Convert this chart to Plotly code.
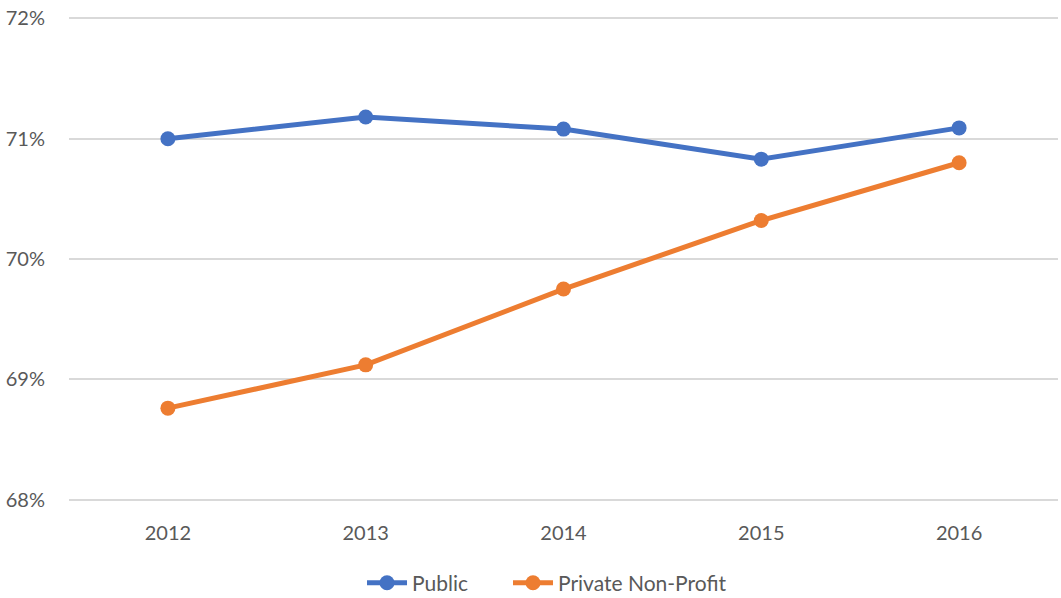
import plotly.graph_objects as go

years = ["2012", "2013", "2014", "2015", "2016"]
public = [71.00, 71.18, 71.08, 70.83, 71.09]
private_np = [68.76, 69.12, 69.75, 70.32, 70.80]
y_ticks = [68, 69, 70, 71, 72]
y_tick_labels = ["68%", "69%", "70%", "71%", "72%"]

fig = go.Figure()
fig.add_trace(go.Scatter(
    x=years, y=public, name="Public", mode="lines+markers",
    line=dict(color="#4472C4", width=5),
    marker=dict(color="#4472C4", size=15),
    legend="legend",
))
fig.add_trace(go.Scatter(
    x=years, y=private_np, name="Private Non-Profit", mode="lines+markers",
    line=dict(color="#ED7D31", width=5),
    marker=dict(color="#ED7D31", size=15),
    legend="legend2",
))

legend_style = dict(orientation="h", xanchor="left", y=0.025, yanchor="middle",
                    yref="container", xref="container",
                    font=dict(size=21, color="#595959"), itemwidth=40,
                    bgcolor="rgba(0,0,0,0)")

fig.update_layout(
    width=1061, height=598,
    margin=dict(l=69, r=3, t=16, b=96, autoexpand=False),
    paper_bgcolor="white", plot_bgcolor="white",
    font=dict(family="Lato, 'Open Sans', sans-serif", size=20, color="#595959"),
    showlegend=True,
    legend=dict(x=0.3412, **legend_style),
    legend2=dict(x=0.4788, **legend_style),
    xaxis=dict(type="category", range=[-0.5, 4.5], showgrid=False, showline=False,
               ticks="", ticklabelstandoff=17, zeroline=False),
    yaxis=dict(range=[67.98, 72.02], tickvals=y_ticks, ticktext=y_tick_labels,
               showgrid=True, gridcolor="#D9D9D9", gridwidth=1.5, zeroline=False,
               showline=False, ticks="", ticklabelstandoff=23,
               ticklabeloverflow="allow"),
)

fig.write_html("out.html", config={"displayModeBar": False},
               post_script="document.body.style.margin='0';")
